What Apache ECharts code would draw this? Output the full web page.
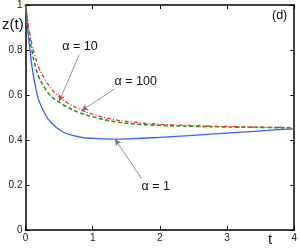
<!DOCTYPE html>
<html><head><meta charset="utf-8">
<script src="https://cdn.jsdelivr.net/npm/echarts@6/dist/echarts.min.js"></script>
<style>html,body{margin:0;padding:0;background:#fff}#c{width:300px;height:248px}</style>
</head><body><div id="c"></div>
<script>
const xTicks = [0, 1, 2, 3, 4];
const yTicks = [0, 0.2, 0.4, 0.6, 0.8, 1];
const alpha1 = [[0,1],[0.03,0.9],[0.07,0.79],[0.1,0.72],[0.15,0.635],[0.2,0.575],[0.3,0.51],[0.4,0.472],[0.5,0.447],[0.6,0.43],[0.8,0.414],[1.0,0.407],[1.3,0.404],[1.6,0.406],[2.0,0.412],[2.5,0.421],[3.0,0.431],[3.5,0.441],[4.0,0.449]];
const alpha10 = [[0,1],[0.05,0.88],[0.1,0.79],[0.15,0.725],[0.2,0.68],[0.3,0.625],[0.4,0.59],[0.5,0.568],[0.6,0.55],[0.8,0.522],[1.0,0.503],[1.3,0.483],[1.6,0.472],[2.0,0.465],[2.5,0.461],[3.0,0.458],[3.5,0.456],[4.0,0.454]];
const alpha100 = [[0,1],[0.05,0.9],[0.1,0.82],[0.15,0.765],[0.2,0.72],[0.3,0.665],[0.4,0.622],[0.5,0.592],[0.6,0.57],[0.8,0.538],[1.0,0.515],[1.3,0.492],[1.6,0.48],[2.0,0.47],[2.5,0.464],[3.0,0.46],[3.5,0.457],[4.0,0.455]];
const annoText = ['α = 10', 'α = 100', 'α = 1'];
const annoTextAt = [[0.81,0.817],[1.64,0.662],[1.94,0.191]];
const annoFrom = [[0.80,0.78],[1.32,0.626],[1.73,0.228]];
const annoTip = [[0.50,0.571],[0.83,0.530],[1.33,0.405]];

const chart = echarts.init(document.getElementById('c'), null, {renderer:'canvas'});
const font = 'Liberation Sans, Arial, sans-serif';
const axisBase = {
  type:'value', axisLine:{show:true, onZero:false, lineStyle:{color:'#000', width:1.5}},
  axisTick:{show:true, inside:true, length:4, lineStyle:{color:'#000', width:1}},
  splitLine:{show:false}
};
const arrowLines = annoFrom.map((f,i)=>[{coord:f},{coord:annoTip[i]}]);
const labelPts = annoText.map((t,i)=>({coord:annoTextAt[i], value:t}));
chart.setOption({
  animation:false,
  grid:{left:25.5, right:3, top:3.5, bottom:18},
  xAxis:[
    Object.assign({}, axisBase, {min:0, max:4, interval:1, position:'bottom',
      axisLabel:{show:true, margin:3, fontSize:10, color:'#222', fontFamily:font, formatter:v=>xTicks.includes(v)?String(v):''}}),
    Object.assign({}, axisBase, {min:0, max:4, interval:1, position:'top', axisLabel:{show:false}})
  ],
  yAxis:[
    Object.assign({}, axisBase, {min:0, max:1, interval:0.2, position:'left',
      axisLabel:{show:true, margin:3, fontSize:10, color:'#222', fontFamily:font, formatter:v=>{const m=yTicks.find(t=>Math.abs(t-v)<1e-9);return m===undefined?'':String(m);}}}),
    Object.assign({}, axisBase, {min:0, max:1, interval:0.2, position:'right', axisLabel:{show:false}})
  ],
  series:[
    {type:'line', name:'α = 1', data:alpha1, smooth:true, symbol:'none', lineStyle:{color:'#3c5cff', width:1.3}, z:3,
      markLine:{silent:true, symbol:['none','arrow'], symbolSize:[5,7], label:{show:false},
        lineStyle:{color:'#777', width:0.8, type:'solid'}, itemStyle:{color:'#111'}, data:arrowLines},
      markPoint:{silent:true, symbol:'circle', symbolSize:0, data:labelPts,
        label:{show:true, position:'inside', color:'#111', fontSize:12.5, fontFamily:font, formatter:p=>p.data.value}}},
    {type:'line', name:'α = 10', data:alpha10, smooth:true, symbol:'none', lineStyle:{color:'#1aa01a', width:1.6, type:[4,2.5]}, z:4},
    {type:'line', name:'α = 100', data:alpha100, smooth:true, symbol:'none', lineStyle:{color:'#ff2a2a', width:1.3, type:[4,2,1,2]}, z:5}
  ],
  graphic:[
    {type:'text', left:2, top:17, style:{text:'z(t)', fontSize:15, fontFamily:font, fill:'#111'}},
    {type:'text', left:268, top:232, style:{text:'t', fontSize:15, fontFamily:font, fill:'#111'}},
    {type:'text', left:272, top:9, style:{text:'(d)', fontSize:12.5, fontFamily:font, fill:'#111'}}
  ]
});
</script></body></html>
